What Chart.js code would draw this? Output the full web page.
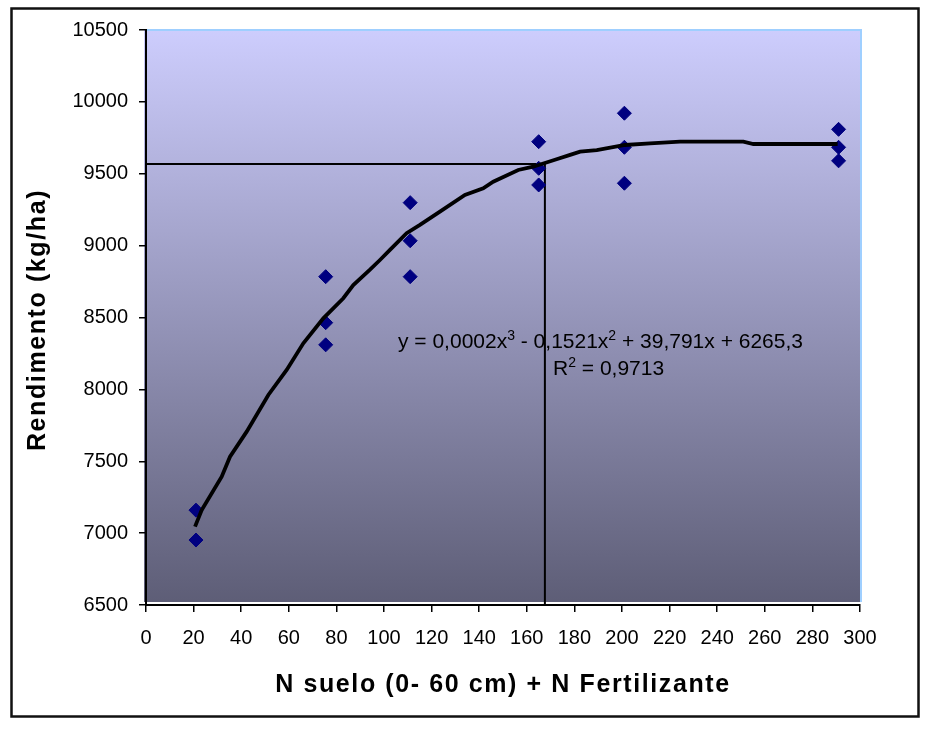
<!DOCTYPE html>
<html>
<head>
<meta charset="utf-8">
<script src="https://cdn.jsdelivr.net/npm/chart.js@4.4.1/dist/chart.umd.min.js"></script>
<style>
  html, body { margin: 0; padding: 0; background: #fff; }
  #wrap { width: 938px; height: 729px; }
</style>
</head>
<body>
<div id="wrap"><canvas id="chart" width="938" height="729"></canvas></div>
<script>
// Observed yields (kg/ha) vs soil N + fertilizer N
const pointsX = [21, 21, 75.5, 75.5, 75.5, 111, 111, 111, 165, 165, 165, 201, 201, 201, 291, 291, 291];
const pointsY = [7160, 6952, 8784, 8464, 8310, 9299, 9034, 8784, 9723, 9538, 9422, 9921, 9684, 9434, 9809, 9684, 9590];

// Cubic trend line as drawn in the picture
const trendX = [20.6, 23.4, 31.8, 35.3, 42.3, 51.4, 59.1, 66.1, 74.5, 82.9, 87.1, 94, 98.3, 102.5, 109.5, 115.1,
                123.5, 134, 141.7, 145.9, 156.4, 162.7, 172.5, 178.2, 182.4, 189.4, 201.3, 211.8, 224.4, 251, 255.2, 290.6];
const trendY = [7045, 7161, 7393, 7532, 7706, 7961, 8135, 8321, 8494, 8634, 8726, 8831, 8900, 8970, 9086, 9144,
                9236, 9352, 9399, 9445, 9526, 9549, 9601, 9631, 9654, 9665, 9700, 9712, 9723, 9723, 9707, 9707];

// Optimum marker lines
const optimumX = 167.6;
const optimumY = 9568;

const xTicks = [0, 20, 40, 60, 80, 100, 120, 140, 160, 180, 200, 220, 240, 260, 280, 300];
const yTicks = [6500, 7000, 7500, 8000, 8500, 9000, 9500, 10000, 10500];

const xTitle = 'N suelo (0- 60 cm) + N Fertilizante';
const yTitle = 'Rendimento (kg/ha)';
const eqParts = [
  { t: 'y = 0,0002x' }, { t: '3', sup: true },
  { t: ' - 0,1521x' }, { t: '2', sup: true },
  { t: ' + 39,791x + 6265,3' }
];
const r2Parts = [{ t: 'R' }, { t: '2', sup: true }, { t: ' = 0,9713' }];

const FONT = '"Liberation Sans", Arial, sans-serif';

function drawRich(ctx, parts, x, y) {
  parts.forEach(p => {
    if (p.sup) {
      ctx.font = '14px ' + FONT;
      ctx.fillText(p.t, x, y - 8);
    } else {
      ctx.font = '21px ' + FONT;
      ctx.fillText(p.t, x, y);
    }
    x += ctx.measureText(p.t).width;
  });
}

// background gradient, frame, titles and equation text
const decor = {
  id: 'decor',
  beforeDraw(chart) {
    const ctx = chart.ctx;
    const a = chart.chartArea;
    ctx.save();
    ctx.fillStyle = '#fff';
    ctx.fillRect(0, 0, chart.width, chart.height);
    const g = ctx.createLinearGradient(0, a.top, 0, a.bottom);
    g.addColorStop(0, '#cdcdfd');
    g.addColorStop(1, '#5d5d76');
    ctx.fillStyle = g;
    ctx.fillRect(a.left - 2, a.top, a.right - a.left + 2, a.bottom - a.top - 3);
    ctx.strokeStyle = '#9fcfff';
    ctx.lineWidth = 2;
    ctx.beginPath();
    ctx.moveTo(a.left, a.top);
    ctx.lineTo(a.right + 1, a.top);
    ctx.lineTo(a.right + 1, a.bottom - 3);
    ctx.stroke();
    // outer frame
    ctx.strokeStyle = '#111';
    ctx.lineWidth = 2.5;
    ctx.strokeRect(11.5, 8.5, 907, 708);
    ctx.restore();
  },
  afterDraw(chart) {
    const ctx = chart.ctx;
    const a = chart.chartArea;
    ctx.save();
    ctx.fillStyle = '#000';
    ctx.letterSpacing = '1.6px';
    ctx.font = 'bold 25px ' + FONT;
    ctx.textAlign = 'center';
    ctx.textBaseline = 'alphabetic';
    ctx.fillText(xTitle, (a.left + a.right) / 2, 692);
    ctx.translate(45, 320);
    ctx.rotate(-Math.PI / 2);
    ctx.fillText(yTitle, 0, 0);
    ctx.restore();

    ctx.save();
    ctx.fillStyle = '#000';
    ctx.textAlign = 'left';
    ctx.textBaseline = 'alphabetic';
    drawRich(ctx, eqParts, 398, 348);
    drawRich(ctx, r2Parts, 553, 375);
    ctx.restore();
  }
};

const ctx = document.getElementById('chart').getContext('2d');
new Chart(ctx, {
  type: 'scatter',
  data: {
    datasets: [
      {
        label: 'Tendencia',
        data: trendX.map((x, i) => ({ x: x, y: trendY[i] })),
        showLine: true,
        borderColor: '#000',
        borderWidth: 3.8,
        pointRadius: 0,
        tension: 0,
        order: 0
      },
      {
        label: 'Rendimento',
        data: pointsX.map((x, i) => ({ x: x, y: pointsY[i] })),
        pointStyle: 'rectRot',
        pointRadius: 7,
        backgroundColor: '#000080',
        borderColor: '#000080',
        borderWidth: 1,
        order: 1
      },
      {
        label: 'h',
        data: [{ x: 0, y: optimumY }, { x: optimumX, y: optimumY }],
        showLine: true,
        borderColor: '#000',
        borderWidth: 2,
        pointRadius: 0,
        order: 2
      },
      {
        label: 'v',
        data: [{ x: optimumX, y: 6500 }, { x: optimumX, y: optimumY }],
        showLine: true,
        borderColor: '#000',
        borderWidth: 2,
        pointRadius: 0,
        order: 2
      }
    ]
  },
  options: {
    responsive: false,
    animation: false,
    layout: { padding: { left: 0, top: 30, right: 78, bottom: 0 } },
    plugins: {
      legend: { display: false },
      tooltip: { enabled: false },
      title: { display: false }
    },
    scales: {
      x: {
        type: 'linear',
        min: 0,
        max: 300,
        afterBuildTicks: s => { s.ticks = xTicks.map(v => ({ value: v })); },
        afterFit: s => { s.height = 124; },
        ticks: {
          color: '#000',
          font: { family: FONT, size: 20 },
          padding: 14,
          maxRotation: 0,
          autoSkip: false,
          callback: v => String(v)
        },
        grid: { drawOnChartArea: false, drawTicks: true, tickLength: 7, color: '#000', lineWidth: 1.5 },
        border: { display: true, color: '#000', width: 2 }
      },
      y: {
        type: 'linear',
        min: 6500,
        max: 10500,
        afterBuildTicks: s => { s.ticks = yTicks.map(v => ({ value: v })); },
        afterFit: s => { s.width = 146; },
        ticks: {
          color: '#000',
          font: { family: FONT, size: 20 },
          padding: 11,
          autoSkip: false,
          callback: v => String(v)
        },
        grid: { drawOnChartArea: false, drawTicks: true, tickLength: 7, color: '#000', lineWidth: 1.5 },
        border: { display: true, color: '#000', width: 2 }
      }
    }
  },
  plugins: [decor]
});
</script>
</body>
</html>
